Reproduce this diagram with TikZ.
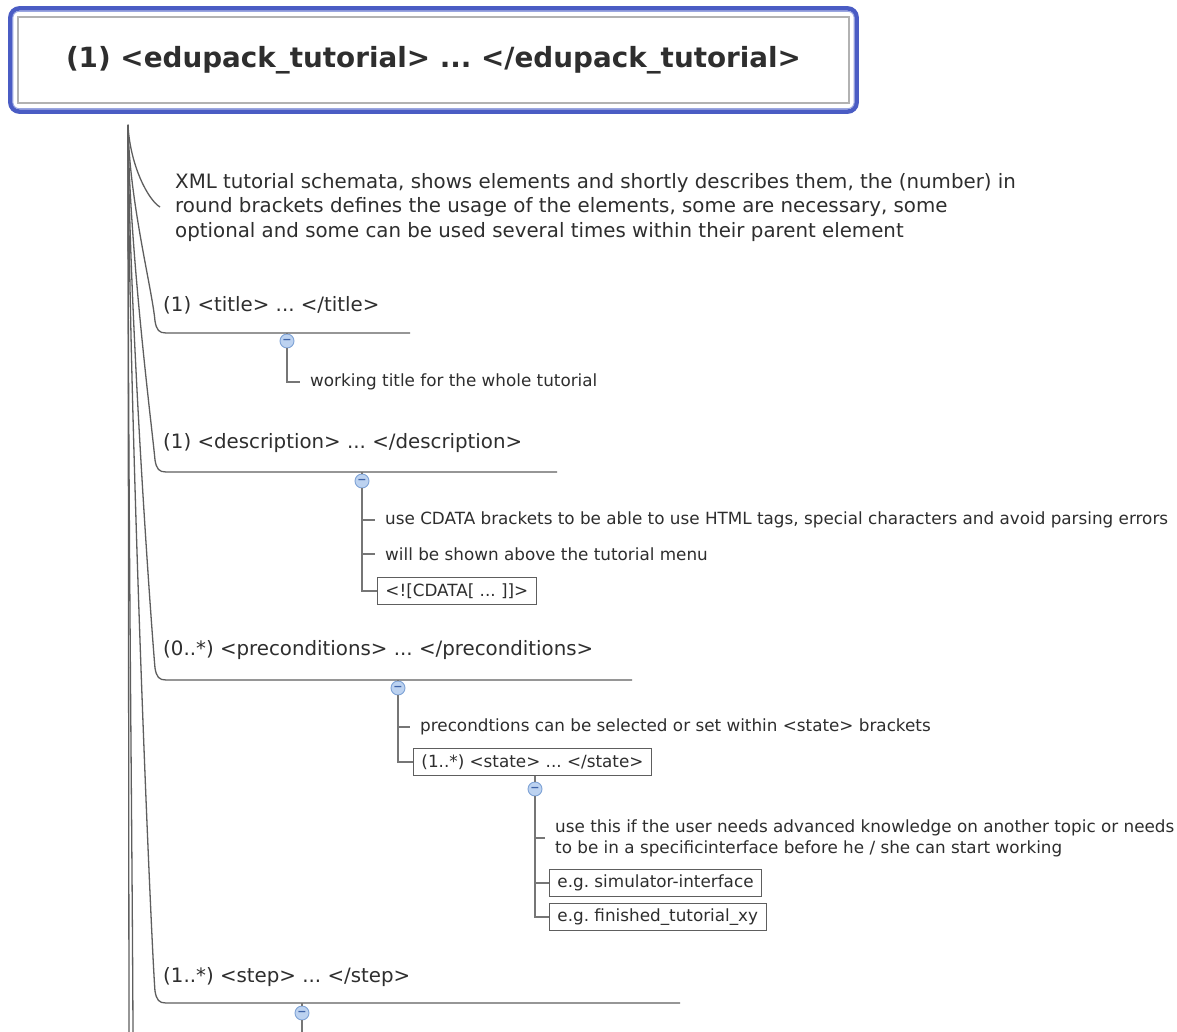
\documentclass[tikz,border=0pt]{standalone}
\usepackage{fontspec}
\setmainfont{DejaVu Sans}
\usetikzlibrary{calc}
\definecolor{txt}{HTML}{2E2E2E}
\definecolor{ln}{HTML}{5E5E5E}
\definecolor{frameblue}{HTML}{4A5CC4}
\definecolor{framelight}{HTML}{9AA6E0}
\definecolor{cfill}{HTML}{BCD2F0}
\definecolor{cdraw}{HTML}{7FA3D6}
\definecolor{cminus}{HTML}{3E63A8}
\newcommand\branchto[3]{%
  \pgfmathsetmacro\ya{128+0.35*(#1-128)}%
  \pgfmathsetmacro\yb{#1-45}%
  \pgfmathsetmacro\yc{#1-12}%
  \pgfmathsetmacro\yd{#1-3}%
  \draw[branch] (trunk) .. controls (129,\ya) and (152,\yb) .. (155,\yc) .. controls (156.5,\yd) and (159,#1) .. (#2) -- (#3);}
\frenchspacing
\begin{document}
\begin{tikzpicture}[x=1pt,y=-1pt,
  lvlone/.style={anchor=west, inner sep=0pt, text=txt, font=\fontsize{19.8}{24.5}\selectfont, align=left},
  lvltwo/.style={anchor=west, inner xsep=10pt, inner ysep=0pt, text=txt, font=\fontsize{16.8}{21}\selectfont, align=left},
  boxed/.style={anchor=west, draw=ln, line width=0.9pt, inner xsep=8pt, inner ysep=4pt, minimum height=27pt, text=txt, font=\fontsize{16.8}{17}\selectfont},
  toggle/.style={circle, draw=cdraw, fill=cfill, line width=0.9pt, minimum size=14pt, inner sep=0pt, text=cminus, font=\bfseries\fontsize{11}{11}\selectfont},
  branch/.style={draw=ln, line width=1.3pt},
  twig/.style={draw=ln!85, line width=1.1pt},
]
\useasboundingbox (0,0) rectangle (1177,1032);
\fill[white] (0,0) rectangle (1177,1032);

% root
\node[draw=gray!60, line width=1.2pt, fill=white, minimum width=831pt, minimum height=86pt, inner sep=0pt, text=txt,
      font=\bfseries\fontsize{27.8}{30}\selectfont] (root) at (433.5,60)
      {(1) <edupack\_tutorial> ... </edupack\_tutorial>};
\draw[frameblue, line width=4.5pt, rounded corners=9pt] ($(root.north west)+(-7,-8)$) rectangle ($(root.south east)+(7,8)$);
\draw[framelight, line width=1pt, rounded corners=6pt] ($(root.north west)+(-4.5,-5)$) rectangle ($(root.south east)+(4.5,5)$);

% trunk
\coordinate (trunk) at (128,125);
\coordinate (more1) at (129,1032);
\coordinate (more2) at (133,1032);
\draw[branch] (trunk) -- (more1);
\draw[branch] (trunk) .. controls (128,500) and (132,800) .. (more2);

% XML description
\node[lvlone] (xml) at (175,207.5) {XML tutorial schemata, shows elements and shortly describes them, the (number) in\\
round brackets defines the usage of the elements, some are necessary, some\\
optional and some can be used several times within their parent element};
\coordinate (xmlend) at (160,207);
\draw[branch] (trunk) .. controls (130,165) and (148,200) .. (xmlend);

% title
\node[lvlone] (title) at (163,305) {(1) <title> ... </title>};
\coordinate (title-s) at (166,333);
\coordinate (title-e) at (410,333);
\branchto{333}{title-s}{title-e}
\node[toggle] (t1) at (287,341) {−};
\draw[twig] (title-s -| t1) -- (t1.north);
\node[lvltwo] (wt) at (300,382) {working title for the whole tutorial};
\draw[twig] (t1.south) |- (wt.west);

% description
\node[lvlone] (desc) at (163,443) {(1) <description> ... </description>};
\coordinate (desc-s) at (166,472);
\coordinate (desc-e) at (557,472);
\branchto{472}{desc-s}{desc-e}
\node[toggle] (t2) at (362,481) {−};
\draw[twig] (desc-s -| t2) -- (t2.north);
\node[lvltwo] (cd1) at (375,520) {use CDATA brackets to be able to use HTML tags, special characters and avoid parsing errors};
\node[lvltwo] (cd2) at (375,554) {will be shown above the tutorial menu};
\node[boxed] (cd3) at (377,591) {<![CDATA[ ... ]]>};
\draw[twig] (t2.south) |- (cd3.west);
\draw[twig] (t2.south |- cd1.west) -- (cd1.west);
\draw[twig] (t2.south |- cd2.west) -- (cd2.west);

% preconditions
\node[lvlone] (pre) at (163,650) {(0..*) <preconditions> ... </preconditions>};
\coordinate (pre-s) at (166,680);
\coordinate (pre-e) at (632,680);
\branchto{680}{pre-s}{pre-e}
\node[toggle] (t3) at (398,688) {−};
\draw[twig] (pre-s -| t3) -- (t3.north);
\node[lvltwo] (pc1) at (410,727) {precondtions can be selected or set within <state> brackets};
\node[boxed] (state) at (413,762) {(1..*) <state> ... </state>};
\draw[twig] (t3.south) |- (state.west);
\draw[twig] (t3.south |- pc1.west) -- (pc1.west);
\node[toggle] (t4) at (535,789) {−};
\draw[twig] (state.south -| t4) -- (t4.north);
\node[lvltwo] (st1) at (545,838) {use this if the user needs advanced knowledge on another topic or needs\\to be in a specificinterface before he / she can start working};
\node[boxed] (st2) at (549,883) {e.g. simulator-interface};
\node[boxed] (st3) at (549,917) {e.g. finished\_tutorial\_xy};
\draw[twig] (t4.south) |- (st3.west);
\draw[twig] (t4.south |- st1.west) -- (st1.west);
\draw[twig] (t4.south |- st2.west) -- (st2.west);

% step
\node[lvlone] (step) at (163,977) {(1..*) <step> ... </step>};
\coordinate (step-s) at (166,1003);
\coordinate (step-e) at (680,1003);
\branchto{1003}{step-s}{step-e}
\node[toggle] (t5) at (302,1013) {−};
\draw[twig] (step-s -| t5) -- (t5.north);
\coordinate (stepmore) at (302,1032);
\draw[twig, line width=1.6pt] (t5.south) -- (stepmore);
\end{tikzpicture}
\end{document}
